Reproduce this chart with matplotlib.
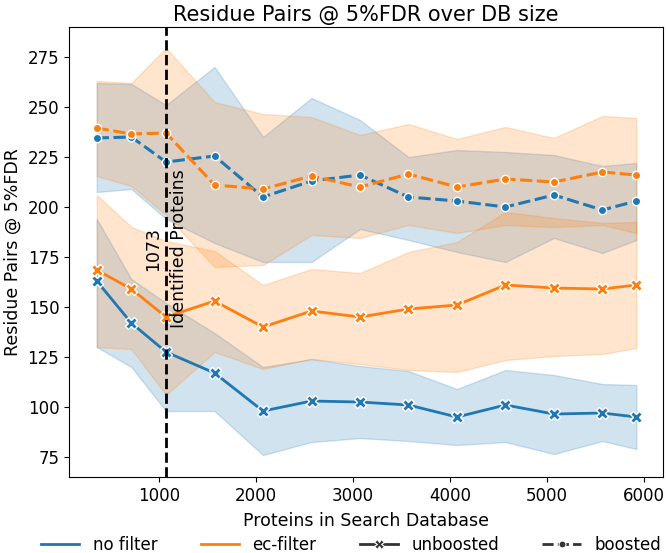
import matplotlib
matplotlib.use('Agg')
import matplotlib.pyplot as plt
from matplotlib.lines import Line2D

# proteins in search database
db_size = [358, 715, 1073, 1573, 2073, 2573, 3073, 3573, 4073, 4573, 5073, 5573, 5923]

# unboosted (solid, x markers)
nofilter_unb = [163, 142, 127.5, 117, 98, 103, 102.5, 101, 95, 101, 96.5, 97, 95]
nofilter_unb_lo = [130, 120, 98, 98, 76, 82.5, 84.5, 83, 81, 82.5, 76.5, 83, 79]
nofilter_unb_hi = [194, 164, 152, 137, 120, 124, 120.5, 118, 109, 118.5, 116, 111.5, 111]

ecfilter_unb = [168.5, 159, 145, 153, 140, 148, 145, 149, 151, 161, 159.5, 159, 161]
ecfilter_unb_lo = [130, 129, 106, 127.5, 119, 124, 121.5, 118.5, 117.5, 123.5, 125.5, 126.5, 129.5]
ecfilter_unb_hi = [206, 190, 183, 178, 161, 169, 167, 177.5, 182.5, 197.5, 194.5, 192, 192.5]

# boosted (dashed, o markers)
nofilter_bst = [234.5, 235, 222.5, 225.5, 205, 213, 216, 205, 203, 200, 206, 198.5, 203]
nofilter_bst_lo = [207.5, 209, 194, 182, 172.5, 172.5, 189, 183.5, 177.5, 172.5, 184.5, 177, 183.5]
nofilter_bst_hi = [262, 261.5, 251, 270, 235, 254.5, 243.5, 225, 228.5, 227.5, 226, 220.5, 222]

ecfilter_bst = [239.5, 236.5, 237, 211, 209, 215.5, 210, 216.5, 210, 214, 212.5, 217.5, 216]
ecfilter_bst_lo = [215.5, 210.5, 196, 170, 171, 186, 184.5, 191, 187, 191, 190, 191, 187]
ecfilter_bst_hi = [263, 262, 279.5, 252.5, 246.5, 245, 236, 241.5, 234, 240, 234.5, 245.5, 244.5]

identified = 1073

blue, orange = '#1f77b4', '#ff7f0e'

fig = plt.figure(figsize=(6.66, 5.53), dpi=100)
ax = fig.add_axes([0.1036, 0.1374, 0.8919, 0.8138])

series = [
    (nofilter_unb, nofilter_unb_lo, nofilter_unb_hi, blue, 'unb'),
    (nofilter_bst, nofilter_bst_lo, nofilter_bst_hi, blue, 'bst'),
    (ecfilter_unb, ecfilter_unb_lo, ecfilter_unb_hi, orange, 'unb'),
    (ecfilter_bst, ecfilter_bst_lo, ecfilter_bst_hi, orange, 'bst'),
]

# error bands first, lines on top
for y, lo, hi, c, kind in series:
    ax.fill_between(db_size, lo, hi, color=c, alpha=0.2)

for y, lo, hi, c, kind in series:
    if kind == 'unb':
        ax.plot(db_size, y, color=c, lw=2, marker='X', ms=8.5, mec='white', mew=1)
    else:
        ax.plot(db_size, y, color=c, lw=2.2, dashes=(4, 1.5), marker='o', ms=6,
                mec='white', mew=1)

ax.axvline(identified, color='black', ls='--', lw=2)
ax.text(identified, 179, f'{identified}\nIdentified Proteins', rotation=90,
        ha='center', va='center', multialignment='center', fontsize=12.5,
        linespacing=1.55)

ax.set_xlim(72, 6198)
ax.set_ylim(65, 290)
ax.set_xticks([1000, 2000, 3000, 4000, 5000, 6000])
ax.set_yticks([75, 100, 125, 150, 175, 200, 225, 250, 275])
ax.tick_params(labelsize=12)
ax.set_xlabel('Proteins in Search Database', fontsize=12.5, labelpad=5)
ax.set_ylabel('Residue Pairs @ 5%FDR', fontsize=12.5)
ax.set_title('Residue Pairs @ 5%FDR over DB size', fontsize=15, pad=4)

handles = [
    Line2D([], [], color=blue, lw=2),
    Line2D([], [], color=orange, lw=2),
    Line2D([], [], color='.2', lw=2, marker='X', ms=7, mec='white', mew=0.8),
    Line2D([], [], color='.2', lw=2, dashes=(4, 1.5), marker='o', ms=5, mec='white', mew=0.8),
]
labels = ['no filter', 'ec-filter', 'unboosted', 'boosted']
fig.legend(handles, labels, loc='center', bbox_to_anchor=(0.527, 0.0145), ncol=4,
           frameon=False, fontsize=12, columnspacing=2.6, handlelength=2.3,
           borderaxespad=0, borderpad=0)

plt.savefig('out.png', dpi=100)
